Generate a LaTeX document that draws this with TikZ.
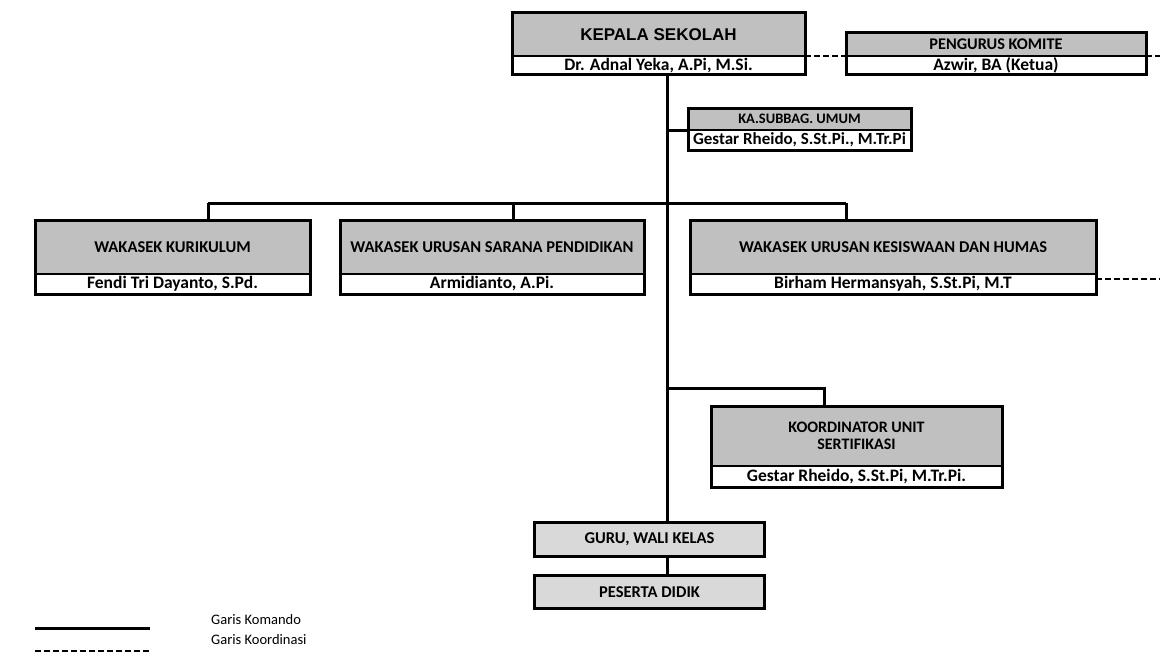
\documentclass[tikz,border=0pt]{standalone}
\usepackage{fontspec}
\setmainfont{Carlito}
\newfontfamily\arialfont{Liberation Sans}
\usetikzlibrary{positioning}

\definecolor{isi}{RGB}{192,192,192}
\definecolor{isimuda}{RGB}{217,217,217}

\begin{document}
\begin{tikzpicture}[x=1pt, y=-1pt,
    judul/.style={draw, line width=1pt, fill=isi, anchor=north west, inner sep=0pt,
        align=center, font=\bfseries\fontsize{16.5}{17}\selectfont},
    nama/.style={draw, line width=1pt, fill=white, inner sep=0pt,
        font=\bfseries\fontsize{17.5}{19}\selectfont},
    kotak/.style={draw, line width=3pt, fill=isimuda, anchor=north west, inner sep=0pt,
        font=\bfseries\fontsize{16.5}{17}\selectfont},
    bingkai/.style={line width=3pt},
    komando/.style={line width=3pt},
    koordinasi/.style={line width=1.3pt, dash pattern=on 6pt off 3pt}]

    \useasboundingbox (0,0) rectangle (1160,661);

    % Kepala sekolah
    \node[judul, minimum width=292, minimum height=42,
        font=\arialfont\bfseries\fontsize{17}{20}\selectfont] (ks) at (512,13) {KEPALA SEKOLAH};
    \node[nama, minimum width=292, minimum height=18, below=0pt of ks] (ksn) {Dr. Adnal Yeka, A.Pi, M.Si.};
    \draw[bingkai] (ks.north west) rectangle (ksn.south east);

    % Komite
    \node[judul, minimum width=299, minimum height=22,
        font=\bfseries\fontsize{16.3}{17}\selectfont] (kom) at (846,33) {PENGURUS KOMITE};
    \node[nama, minimum width=299, minimum height=18, below=0pt of kom] (komn) {Azwir, BA (Ketua)};
    \draw[bingkai] (kom.north west) rectangle (komn.south east);

    % Subbag umum
    \node[judul, minimum width=222, minimum height=21,
        font=\bfseries\fontsize{14.5}{17}\selectfont] (sub) at (688,108) {KA.SUBBAG.\ UMUM};
    \node[nama, minimum width=222, minimum height=19, below=0pt of sub,
        font=\bfseries\fontsize{17}{19}\selectfont] (subn) {Gestar Rheido, S.St.Pi., M.Tr.Pi};
    \draw[bingkai] (sub.north west) rectangle (subn.south east);

    % Wakasek
    \node[judul, minimum width=274, minimum height=53] (kur) at (35,220) {WAKASEK KURIKULUM};
    \node[nama, minimum width=274, minimum height=19, below=0pt of kur] (kurn) {Fendi Tri Dayanto, S.Pd.};
    \draw[bingkai] (kur.north west) rectangle (kurn.south east);

    \node[judul, minimum width=303, minimum height=53] (sar) at (340,220) {WAKASEK URUSAN SARANA PENDIDIKAN};
    \node[nama, minimum width=303, minimum height=19, below=0pt of sar] (sarn) {Armidianto, A.Pi.};
    \draw[bingkai] (sar.north west) rectangle (sarn.south east);

    \node[judul, minimum width=405, minimum height=53] (kes) at (690,220) {WAKASEK URUSAN KESISWAAN DAN HUMAS};
    \node[nama, minimum width=405, minimum height=19, below=0pt of kes] (kesn) {Birham Hermansyah, S.St.Pi, M.T};
    \draw[bingkai] (kes.north west) rectangle (kesn.south east);

    % Koordinator sertifikasi
    \node[judul, minimum width=290, minimum height=59,
        font=\bfseries\fontsize{16}{17}\selectfont] (kor) at (711,406) {KOORDINATOR UNIT\\SERTIFIKASI};
    \node[nama, minimum width=290, minimum height=20, below=0pt of kor] (korn) {Gestar Rheido, S.St.Pi, M.Tr.Pi.};
    \draw[bingkai] (kor.north west) rectangle (korn.south east);

    % Guru dan peserta didik
    \node[kotak, minimum width=230, minimum height=34] (guru) at (533,521) {GURU, WALI KELAS};
    \node[kotak, minimum width=230, minimum height=33] (psd) at (533,574) {PESERTA DIDIK};

    % Garis komando
    \coordinate (batang) at (667,0);
    \coordinate (cabkur) at (208,203);
    \coordinate (cabsar) at (513,203);
    \coordinate (cabkes) at (846,203);
    \coordinate (cabkor) at (824,388);
    \draw[komando] (ksn.south -| batang) -- (guru.north -| batang);
    \draw[komando] (sub.south -| batang) -- (sub.south west);
    \draw[komando] (cabkur) -- (cabkes);
    \draw[komando] (cabkur) -- (cabkur |- kur.north);
    \draw[komando] (cabsar) -- (cabsar |- sar.north);
    \draw[komando] (cabkes) -- (cabkes |- kes.north);
    \draw[komando] (cabkor -| batang) -- (cabkor) -- (cabkor |- kor.north);
    \draw[komando] (guru.south -| batang) -- (psd.north -| batang);

    % Garis koordinasi
    \coordinate (tepi) at (1160,0);
    \draw[koordinasi] (ks.south east) -- (ks.south east -| kom.west);
    \draw[koordinasi] (kom.south east) -- (kom.south east -| tepi);
    \draw[koordinasi] ([yshift=-5pt]kes.south east) -- ([yshift=-5pt]kes.south east -| tepi);

    % Keterangan
    \coordinate (lk1) at (35,628);
    \coordinate (lk2) at (150,628);
    \coordinate (lo1) at (35,651);
    \coordinate (lo2) at (150,651);
    \draw[komando] (lk1) -- (lk2);
    \draw[koordinasi] (lo1) -- (lo2);
    \node[anchor=west, inner sep=0pt, font=\fontsize{14.5}{17}\selectfont] (tkom) at (211,620) {Garis Komando};
    \node[anchor=west, inner sep=0pt, font=\fontsize{14.5}{17}\selectfont] (tkoor) at (211,640) {Garis Koordinasi};
\end{tikzpicture}
\end{document}
